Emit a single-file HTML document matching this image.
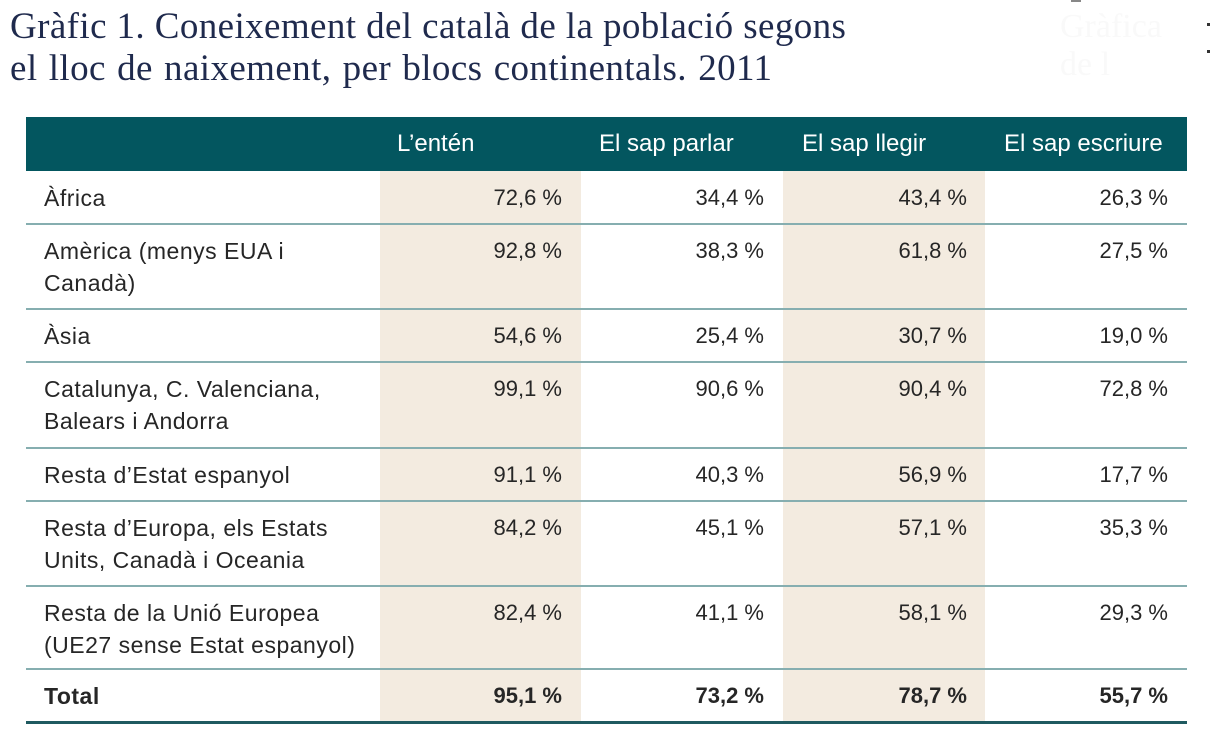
<!DOCTYPE html>
<html>
<head>
<meta charset="utf-8">
<style>
  html, body { margin:0; padding:0; }
  body { width:1211px; height:744px; position:relative; background:#fff; overflow:hidden; }
  .title { position:absolute; left:10px; top:6px; font-family:"Liberation Serif", serif; font-size:37px; line-height:42px; color:#1f2a4d; letter-spacing:0.4px; white-space:nowrap; }
  .hdr { position:absolute; left:26px; top:117px; width:1161px; height:54px; background:#03565f; }
  .beige { position:absolute; top:171px; height:552px; background:#f3ebe0; }
  .hcell { position:absolute; top:117px; height:54px; line-height:54px; font-family:"Liberation Sans", sans-serif; font-size:24px; color:#fff; white-space:nowrap; }
  .line { position:absolute; left:26px; width:1161px; height:2px; background:#86aeb0; }
  .thick { position:absolute; left:26px; width:1161px; height:3px; background:#1f5a60; top:721px; }
  .lab { position:absolute; left:44px; font-family:"Liberation Sans", sans-serif; font-size:23px; line-height:32px; color:#262626; letter-spacing:0.5px; white-space:nowrap; }
  .num { position:absolute; font-family:"Liberation Sans", sans-serif; font-size:22px; line-height:32px; color:#262626; text-align:right; width:150px; white-space:nowrap; }
  .b { font-weight:bold; }
  .c1 { left:412px; } .c2 { left:614px; } .c3 { left:817px; } .c4 { left:1018px; }
</style>
</head>
<body>
<div style="position:absolute;left:1071px;top:0;width:10px;height:2px;background:#888;"></div>
<div style="position:absolute;left:1207px;top:23px;width:3px;height:3px;background:#333;"></div>
<div style="position:absolute;left:1207px;top:50px;width:3px;height:3px;background:#333;"></div>
<div style="position:absolute;left:1060px;top:8px;font-family:'Liberation Serif',serif;font-size:34px;color:#f9f9f9;white-space:nowrap;">Gràfica<br>de l</div>

<div class="title">Gràfic 1. Coneixement del català de la població segons<br><span style="word-spacing:1.6px;">el lloc de naixement, per blocs continentals. 2011</span></div>

<div class="hdr"></div>
<div class="beige" style="left:380px;width:201px;"></div>
<div class="beige" style="left:783px;width:202px;"></div>

<div class="hcell" style="left:397px;">L’entén</div>
<div class="hcell" style="left:599px;">El sap parlar</div>
<div class="hcell" style="left:802px;">El sap llegir</div>
<div class="hcell" style="left:1004px;">El sap escriure</div>

<!-- row lines -->
<div class="line" style="top:223px;"></div>
<div class="line" style="top:308px;"></div>
<div class="line" style="top:361px;"></div>
<div class="line" style="top:447px;"></div>
<div class="line" style="top:500px;"></div>
<div class="line" style="top:585px;"></div>
<div class="line" style="top:668px;"></div>
<div class="thick"></div>

<!-- Row 1 -->
<div class="lab" style="top:182px;">Àfrica</div>
<div class="num c1" style="top:182px;">72,6 %</div>
<div class="num c2" style="top:182px;">34,4 %</div>
<div class="num c3" style="top:182px;">43,4 %</div>
<div class="num c4" style="top:182px;">26,3 %</div>

<!-- Row 2 -->
<div class="lab" style="top:235px;">Amèrica (menys EUA i<br>Canadà)</div>
<div class="num c1" style="top:235px;">92,8 %</div>
<div class="num c2" style="top:235px;">38,3 %</div>
<div class="num c3" style="top:235px;">61,8 %</div>
<div class="num c4" style="top:235px;">27,5 %</div>

<!-- Row 3 -->
<div class="lab" style="top:320px;">Àsia</div>
<div class="num c1" style="top:320px;">54,6 %</div>
<div class="num c2" style="top:320px;">25,4 %</div>
<div class="num c3" style="top:320px;">30,7 %</div>
<div class="num c4" style="top:320px;">19,0 %</div>

<!-- Row 4 -->
<div class="lab" style="top:373px;">Catalunya, C. Valenciana,<br>Balears i Andorra</div>
<div class="num c1" style="top:373px;">99,1 %</div>
<div class="num c2" style="top:373px;">90,6 %</div>
<div class="num c3" style="top:373px;">90,4 %</div>
<div class="num c4" style="top:373px;">72,8 %</div>

<!-- Row 5 -->
<div class="lab" style="top:459px;">Resta d’Estat espanyol</div>
<div class="num c1" style="top:459px;">91,1 %</div>
<div class="num c2" style="top:459px;">40,3 %</div>
<div class="num c3" style="top:459px;">56,9 %</div>
<div class="num c4" style="top:459px;">17,7 %</div>

<!-- Row 6 -->
<div class="lab" style="top:512px;">Resta d’Europa, els Estats<br>Units, Canadà i Oceania</div>
<div class="num c1" style="top:512px;">84,2 %</div>
<div class="num c2" style="top:512px;">45,1 %</div>
<div class="num c3" style="top:512px;">57,1 %</div>
<div class="num c4" style="top:512px;">35,3 %</div>

<!-- Row 7 -->
<div class="lab" style="top:597px;">Resta de la Unió Europea<br>(UE27 sense Estat espanyol)</div>
<div class="num c1" style="top:597px;">82,4 %</div>
<div class="num c2" style="top:597px;">41,1 %</div>
<div class="num c3" style="top:597px;">58,1 %</div>
<div class="num c4" style="top:597px;">29,3 %</div>

<!-- Total -->
<div class="lab b" style="top:680px;">Total</div>
<div class="num c1 b" style="top:680px;">95,1 %</div>
<div class="num c2 b" style="top:680px;">73,2 %</div>
<div class="num c3 b" style="top:680px;">78,7 %</div>
<div class="num c4 b" style="top:680px;">55,7 %</div>
</body>
</html>
